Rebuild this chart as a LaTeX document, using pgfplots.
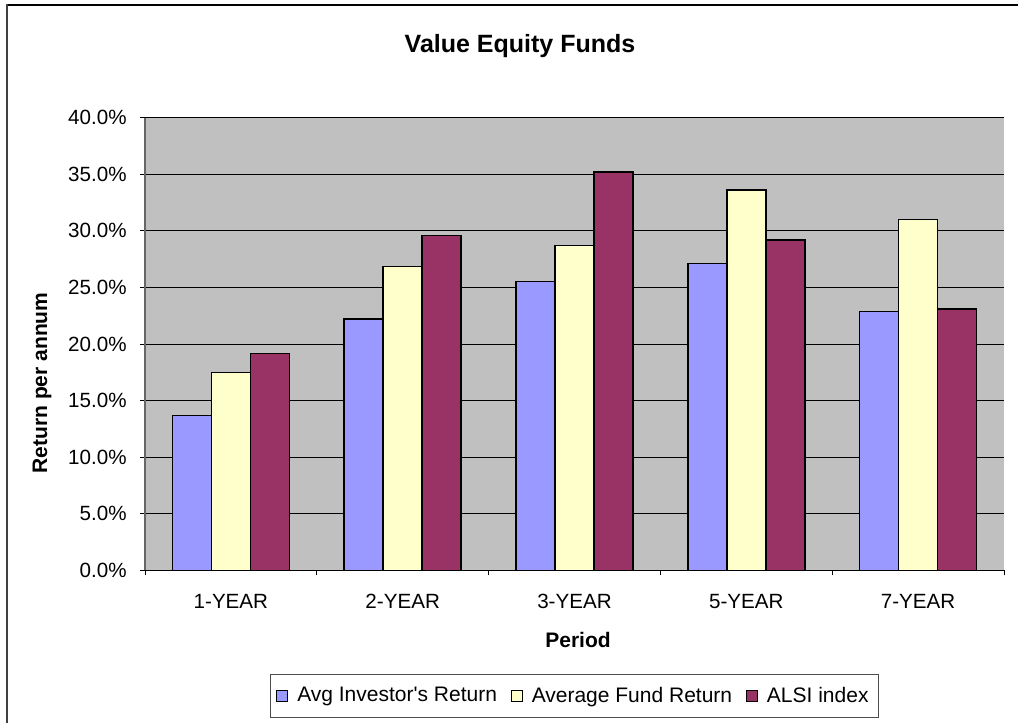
\documentclass[border=0pt]{standalone}
\usepackage{pgfplots}
\pgfplotsset{compat=1.18}
\usepackage{fontspec}
\setmainfont{Liberation Sans}
\definecolor{cblue}{HTML}{9999FF}
\definecolor{cyel}{HTML}{FFFFCC}
\definecolor{cred}{HTML}{993366}
\definecolor{cbg}{HTML}{C0C0C0}
\begin{document}
\begin{tikzpicture}
\useasboundingbox (0,0) rectangle (509pt,361.5pt);
\fill[white] (0,0) rectangle (509pt,361.5pt);
\draw[black, line width=0.6pt] (3.5pt,359pt) -- (509pt,359pt);
\draw[black!75, line width=1.2pt] (3.5pt,0) -- (3.5pt,359.3pt);
\begin{axis}[
  at={(72.5pt,76.25pt)}, anchor=south west,
  width=429.5pt, height=226.5pt, scale only axis,
  xmin=-0.5, xmax=4.5, ymin=0, ymax=40,
  ybar=0pt, bar width=19.5pt,
  axis background/.style={fill=cbg},
  axis x line*=bottom, axis y line*=left,
  x axis line style={black, line width=0.6pt},
  y axis line style={black!60, line width=1.2pt},
  tick align=outside, major tick length=2.5pt,
  tick style={black, line width=0.5pt},
  ytick={0,5,...,40},
  ymajorgrids, grid style={black, line width=0.5pt},
  /pgf/number format/assume math mode=true,
  yticklabel={\pgfmathprintnumber[fixed,fixed zerofill,precision=1]{\tick}\%},
  yticklabel style={font=\fontsize{10.3}{12}\selectfont, anchor=east, inner sep=0pt, xshift=-6.5pt},
  xtick={-0.5,0.5,1.5,2.5,3.5,4.5},
  xticklabels={},
  extra x ticks={0,1,2,3,4},
  extra x tick labels={1-YEAR,2-YEAR,3-YEAR,5-YEAR,7-YEAR},
  extra x tick style={major tick length=0pt, xticklabel style={font=\fontsize{10.3}{12}\selectfont, anchor=base, inner sep=0pt, yshift=-19.25pt}},
  legend columns=3,
  legend style={at={(0.5,-0.277)}, anchor=center, draw=black!70, line width=0.5pt, fill=white,
    font=\fontsize{10.5}{12}\selectfont, inner xsep=3pt, inner ysep=4pt,
    /tikz/every odd column/.append style={column sep=2.5pt},
    /tikz/every even column/.append style={column sep=5pt}},
  legend image code/.code={\draw[#1, draw=black, line width=0.5pt] (0pt,-2.7pt) rectangle (5.4pt,2.7pt);},
  every axis plot/.append style={draw=black, line width=0.75pt},
]
\addplot[fill=cblue] coordinates {(0,13.7) (1,22.2) (2,25.5) (3,27.1) (4,22.85)};
\addplot[fill=cyel] coordinates {(0,17.5) (1,26.85) (2,28.7) (3,33.6) (4,31.0)};
\addplot[fill=cred] coordinates {(0,19.15) (1,29.6) (2,35.2) (3,29.2) (4,23.1)};
\legend{Avg Investor\textquotesingle s Return, Average Fund Return, ALSI index}
\end{axis}
\node[font=\bfseries\fontsize{12.5}{14}\selectfont] at (260pt,338.5pt) {Value Equity Funds};
\node[font=\bfseries\fontsize{10.5}{12}\selectfont, rotate=90] at (21pt,170pt) {Return per annum};
\node[font=\bfseries\fontsize{10.5}{12}\selectfont] at (289pt,41.5pt) {Period};
\end{tikzpicture}
\end{document}
